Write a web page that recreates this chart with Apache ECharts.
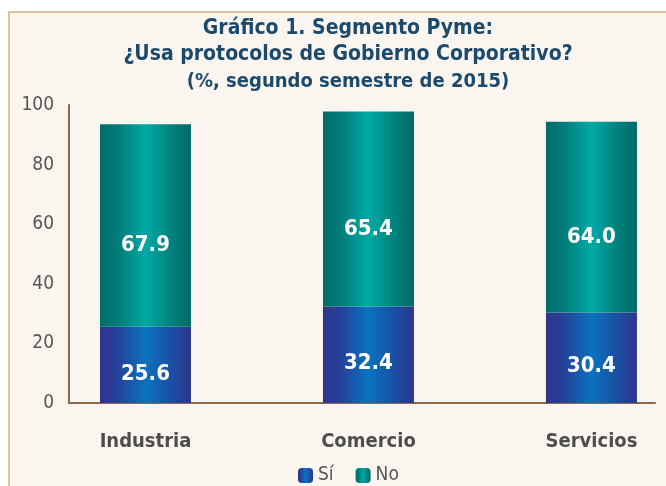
<!DOCTYPE html>
<html>
<head>
<meta charset="utf-8">
<script src="https://cdn.jsdelivr.net/npm/echarts@6/dist/echarts.min.js"></script>
<style>
  html, body { margin: 0; padding: 0; background: #ffffff; }
  #chart { width: 666px; height: 486px; }
</style>
</head>
<body>
<div id="chart"></div>
<script>
const categories = ['Industria', 'Comercio', 'Servicios'];
const siValues = [25.6, 32.4, 30.4];
const noValues = [67.9, 65.4, 64.0];
const yTicks = [0, 20, 40, 60, 80, 100];

const FONT = '"Liberation Sans Narrow", "DejaVu Sans Condensed", "Liberation Sans", sans-serif';

const blueGrad = new echarts.graphic.LinearGradient(0, 0, 1, 0, [
    { offset: 0, color: '#2e3589' },
    { offset: 0.18, color: '#263f98' },
    { offset: 0.5, color: '#0a73bf' },
    { offset: 0.82, color: '#1d4aa0' },
    { offset: 1, color: '#2e3589' }
]);
const tealGrad = new echarts.graphic.LinearGradient(0, 0, 1, 0, [
    { offset: 0, color: '#006b68' },
    { offset: 0.2, color: '#007d79' },
    { offset: 0.5, color: '#00aaa5' },
    { offset: 0.8, color: '#007f7b' },
    { offset: 1, color: '#006a67' }
]);

// value first, category index second -> stacking happens on the value
const toPoints = (vals) => vals.map((v, i) => [v, i]);

const barLabel = (dy) => ({
    show: true,
    position: 'inside',
    offset: [0, dy],
    color: '#ffffff',
    fontFamily: FONT,
    fontSize: 22,
    fontWeight: 'bold',
    formatter: (p) => p.value[0].toFixed(1)
});

const option = {
    animation: false,
    backgroundColor: '#ffffff',
    textStyle: { fontFamily: FONT },
    graphic: [
        {
            type: 'rect',
            z: -10,
            shape: { x: 9, y: 12, width: 720, height: 520 },
            style: { fill: '#faf5ee', stroke: '#dfc29f', lineWidth: 2 }
        }
    ],
    title: {
        text: 'Gráfico 1. Segmento Pyme:\n¿Usa protocolos de Gobierno Corporativo?',
        subtext: '(%, segundo semestre de 2015)',
        left: 343,
        textAlign: 'center',
        top: 11,
        itemGap: 1,
        textStyle: {
            fontFamily: FONT,
            fontSize: 21,
            fontWeight: 'bold',
            color: '#1c4a6c',
            lineHeight: 26
        },
        subtextStyle: {
            fontFamily: FONT,
            fontSize: 20,
            fontWeight: 'bold',
            color: '#1c4a6c',
            lineHeight: 26
        }
    },
    legend: {
        bottom: -4,
        left: 293,
        itemWidth: 15,
        itemHeight: 15,
        itemGap: 22,
        textStyle: { fontFamily: FONT, fontSize: 19, color: '#555555' },
        data: ['Sí', 'No']
    },
    grid: {
        left: 69,
        right: 11,
        top: 105,
        bottom: 83
    },
    xAxis: {
        type: 'value',
        min: -0.343,
        max: 2.285,
        splitLine: { show: false },
        axisTick: { show: false },
        axisLine: { show: true, onZero: false, lineStyle: { color: '#8b6a4a', width: 2 } },
        axisLabel: {
            customValues: [0, 1, 2],
            formatter: (v) => categories[Math.round(v)] || '',
            fontFamily: FONT,
            fontSize: 20,
            fontWeight: 'bold',
            color: '#4d4d4d',
            margin: 29
        }
    },
    yAxis: {
        type: 'value',
        min: 0,
        max: 100,
        interval: 20,
        splitLine: { show: false },
        axisTick: { show: false },
        axisLine: { show: true, onZero: false, lineStyle: { color: '#8b6a4a', width: 2 } },
        axisLabel: {
            customValues: yTicks,
            fontFamily: FONT,
            fontSize: 19,
            color: '#555555',
            margin: 15
        }
    },
    series: [
        {
            name: 'Sí',
            type: 'bar',
            stack: 'total',
            barWidth: 91,
            encode: { x: 1, y: 0 },
            itemStyle: { color: blueGrad },
            label: barLabel(9),
            data: toPoints(siValues)
        },
        {
            name: 'No',
            type: 'bar',
            stack: 'total',
            barWidth: 91,
            encode: { x: 1, y: 0 },
            itemStyle: { color: tealGrad },
            label: barLabel(20),
            data: toPoints(noValues)
        }
    ]
};

const chart = echarts.init(document.getElementById('chart'));
chart.setOption(option);
</script>
</body>
</html>
